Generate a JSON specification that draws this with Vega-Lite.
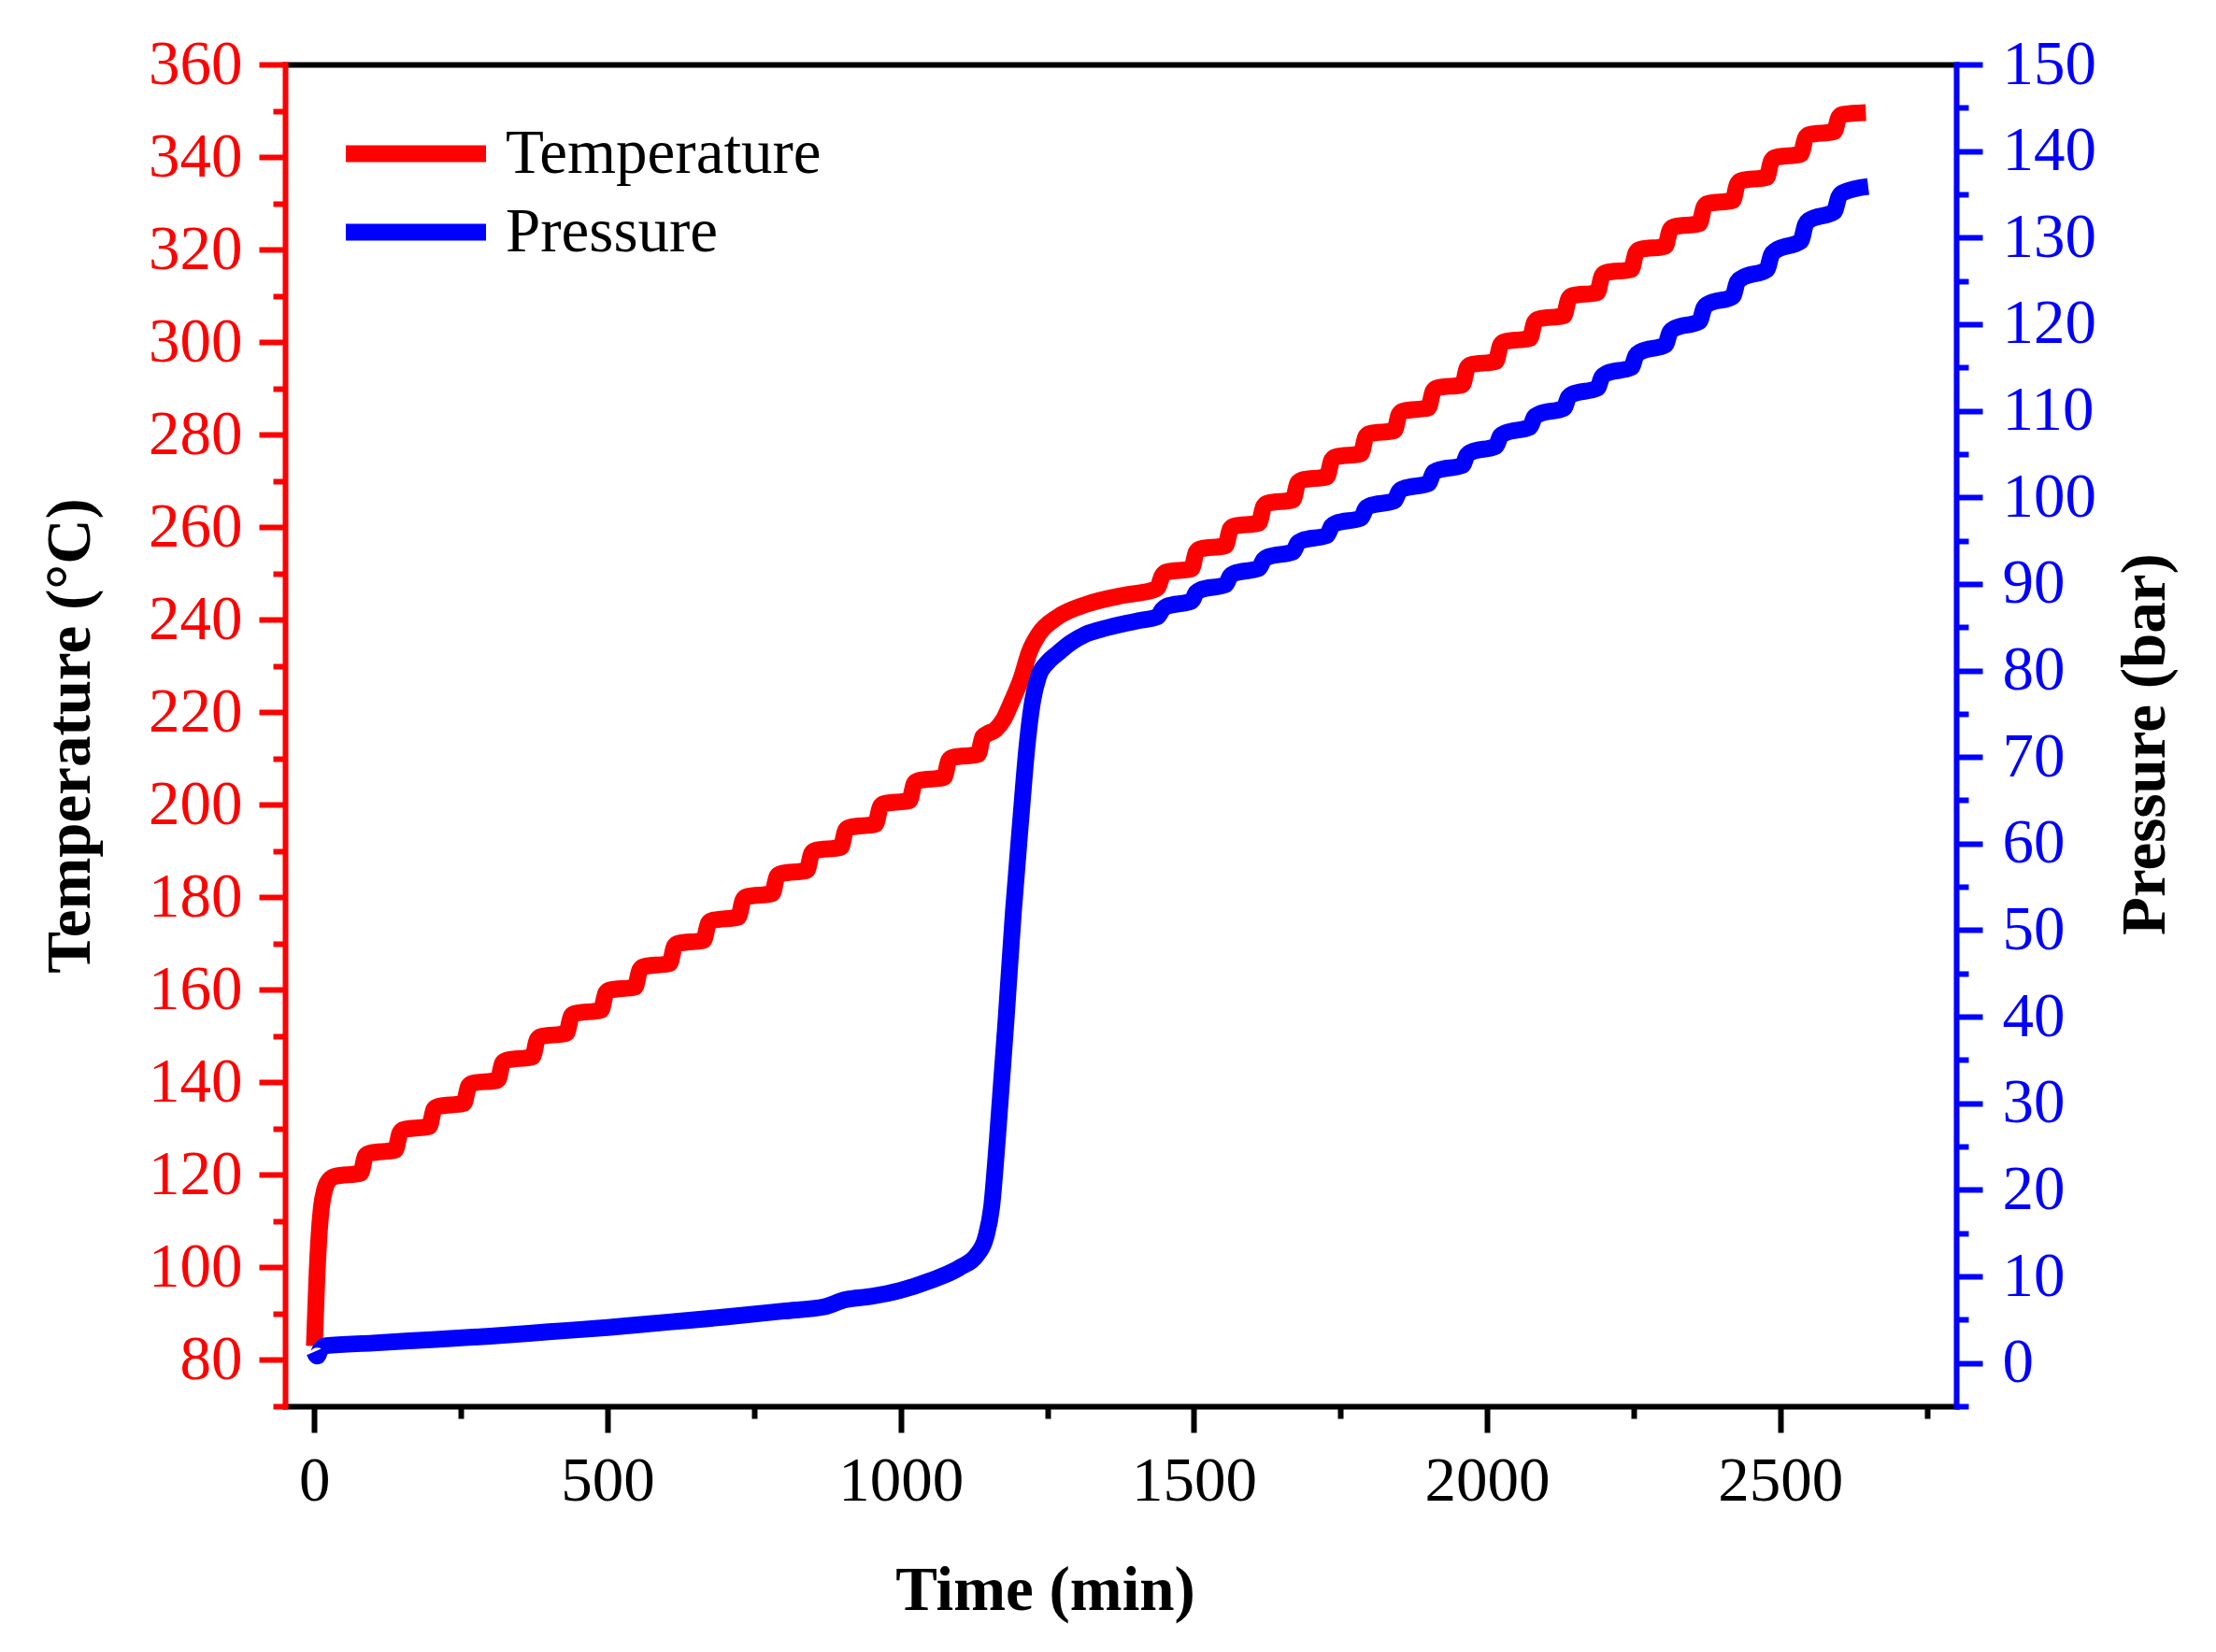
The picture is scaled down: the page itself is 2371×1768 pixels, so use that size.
{
  "$schema": "https://vega.github.io/schema/vega-lite/v6.json",
  "description": "Temperature and pressure against time, two y axes with major and minor ticks",
  "autosize": "none",
  "width": 1788,
  "height": 1436,
  "padding": {"left": 305, "top": 69, "right": 278, "bottom": 263},
  "background": "white",
  "datasets": {
    "temperature": [
      {"t": 0, "v": 83}, {"t": 4, "v": 97}, {"t": 8, "v": 107}, {"t": 12, "v": 113}, {"t": 18, "v": 117}, {"t": 26, "v": 119},
      {"t": 35, "v": 119.7}, {"t": 79, "v": 120.4}, {"t": 87, "v": 124.1},
      {"t": 94, "v": 124.7}, {"t": 138, "v": 125.4}, {"t": 146, "v": 129.1},
      {"t": 152, "v": 129.8}, {"t": 196, "v": 130.5}, {"t": 204, "v": 134.2},
      {"t": 211, "v": 134.8}, {"t": 255, "v": 135.5}, {"t": 263, "v": 139.2},
      {"t": 269, "v": 139.8}, {"t": 313, "v": 140.5}, {"t": 321, "v": 144.2},
      {"t": 328, "v": 144.8}, {"t": 372, "v": 145.5}, {"t": 380, "v": 149.2},
      {"t": 386, "v": 149.9}, {"t": 430, "v": 150.6}, {"t": 438, "v": 154.3},
      {"t": 445, "v": 154.9}, {"t": 489, "v": 155.6}, {"t": 497, "v": 159.3},
      {"t": 503, "v": 159.9}, {"t": 547, "v": 160.6}, {"t": 555, "v": 164.3},
      {"t": 562, "v": 165.0}, {"t": 606, "v": 165.7}, {"t": 614, "v": 169.4},
      {"t": 620, "v": 170.0}, {"t": 664, "v": 170.7}, {"t": 672, "v": 174.4},
      {"t": 679, "v": 175.0}, {"t": 723, "v": 175.7}, {"t": 731, "v": 179.4},
      {"t": 737, "v": 180.1}, {"t": 781, "v": 180.8}, {"t": 789, "v": 184.5},
      {"t": 796, "v": 185.1}, {"t": 840, "v": 185.8}, {"t": 848, "v": 189.5},
      {"t": 854, "v": 190.1}, {"t": 898, "v": 190.8}, {"t": 906, "v": 194.5},
      {"t": 913, "v": 195.1}, {"t": 957, "v": 195.8}, {"t": 965, "v": 199.5},
      {"t": 971, "v": 200.2}, {"t": 1015, "v": 200.9}, {"t": 1023, "v": 204.6},
      {"t": 1030, "v": 205.2}, {"t": 1074, "v": 205.9}, {"t": 1082, "v": 209.6},
      {"t": 1088, "v": 210.2}, {"t": 1132, "v": 210.9}, {"t": 1140, "v": 214.7},
      {"t": 1147, "v": 215.3}, {"t": 1162, "v": 216.3}, {"t": 1176, "v": 218.6}, {"t": 1190, "v": 222.5},
      {"t": 1206, "v": 227.5}, {"t": 1219, "v": 232.9}, {"t": 1235, "v": 236.8}, {"t": 1268, "v": 240.6},
      {"t": 1316, "v": 243.3}, {"t": 1381, "v": 245.3}, {"t": 1430, "v": 246.4}, {"t": 1438, "v": 246.9},
      {"t": 1446, "v": 249.5},
      {"t": 1453, "v": 250.3}, {"t": 1496, "v": 251.0}, {"t": 1504, "v": 254.6},
      {"t": 1511, "v": 255.3}, {"t": 1554, "v": 256.0}, {"t": 1562, "v": 259.6},
      {"t": 1568, "v": 260.2}, {"t": 1611, "v": 260.9}, {"t": 1619, "v": 264.5},
      {"t": 1626, "v": 265.2}, {"t": 1669, "v": 265.9}, {"t": 1677, "v": 269.5},
      {"t": 1684, "v": 270.2}, {"t": 1727, "v": 270.9}, {"t": 1735, "v": 274.5},
      {"t": 1742, "v": 275.2}, {"t": 1785, "v": 275.9}, {"t": 1793, "v": 279.5},
      {"t": 1799, "v": 280.2}, {"t": 1842, "v": 280.9}, {"t": 1850, "v": 284.4},
      {"t": 1857, "v": 285.1}, {"t": 1900, "v": 285.8}, {"t": 1908, "v": 289.4},
      {"t": 1915, "v": 290.1}, {"t": 1958, "v": 290.8}, {"t": 1966, "v": 294.4},
      {"t": 1972, "v": 295.1}, {"t": 2015, "v": 295.8}, {"t": 2023, "v": 299.4},
      {"t": 2030, "v": 300.1}, {"t": 2073, "v": 300.8}, {"t": 2081, "v": 304.3},
      {"t": 2088, "v": 305.0}, {"t": 2131, "v": 305.7}, {"t": 2139, "v": 309.3},
      {"t": 2145, "v": 310.0}, {"t": 2188, "v": 310.7}, {"t": 2196, "v": 314.3},
      {"t": 2203, "v": 315.0}, {"t": 2246, "v": 315.7}, {"t": 2254, "v": 319.3},
      {"t": 2261, "v": 320.0}, {"t": 2304, "v": 320.7}, {"t": 2312, "v": 324.2},
      {"t": 2319, "v": 324.9}, {"t": 2362, "v": 325.6}, {"t": 2370, "v": 329.2},
      {"t": 2376, "v": 329.9}, {"t": 2419, "v": 330.6}, {"t": 2427, "v": 334.2},
      {"t": 2434, "v": 334.9}, {"t": 2477, "v": 335.6}, {"t": 2485, "v": 339.2},
      {"t": 2492, "v": 339.9}, {"t": 2535, "v": 340.6}, {"t": 2543, "v": 344.1},
      {"t": 2549, "v": 344.8}, {"t": 2592, "v": 345.5}, {"t": 2600, "v": 348.6},
      {"t": 2607, "v": 349.2}, {"t": 2646, "v": 349.6}
    ],
    "pressure": [
      {"t": 0, "v": 1.3}, {"t": 5, "v": 0.8}, {"t": 10, "v": 1.5}, {"t": 20, "v": 2.0}, {"t": 100, "v": 2.3},
      {"t": 200, "v": 2.7}, {"t": 300, "v": 3.1}, {"t": 400, "v": 3.6}, {"t": 500, "v": 4.1}, {"t": 600, "v": 4.7},
      {"t": 700, "v": 5.3}, {"t": 800, "v": 6.0}, {"t": 870, "v": 6.5}, {"t": 905, "v": 7.3}, {"t": 950, "v": 7.7},
      {"t": 1000, "v": 8.4}, {"t": 1050, "v": 9.5}, {"t": 1100, "v": 11.0}, {"t": 1130, "v": 12.5}, {"t": 1145, "v": 14.5},
      {"t": 1155, "v": 18}, {"t": 1165, "v": 26}, {"t": 1180, "v": 40}, {"t": 1192, "v": 52}, {"t": 1205, "v": 63},
      {"t": 1215, "v": 71}, {"t": 1225, "v": 76.5}, {"t": 1235, "v": 79.3}, {"t": 1250, "v": 80.9}, {"t": 1268, "v": 82.0},
      {"t": 1290, "v": 83.2}, {"t": 1316, "v": 84.2}, {"t": 1350, "v": 84.9}, {"t": 1381, "v": 85.4}, {"t": 1410, "v": 85.8},
      {"t": 1438, "v": 86.2}, {"t": 1446, "v": 87.0},
      {"t": 1453, "v": 87.4}, {"t": 1496, "v": 88.0}, {"t": 1504, "v": 89.0},
      {"t": 1511, "v": 89.3}, {"t": 1554, "v": 89.9}, {"t": 1562, "v": 90.9},
      {"t": 1568, "v": 91.2}, {"t": 1611, "v": 91.8}, {"t": 1619, "v": 92.8},
      {"t": 1626, "v": 93.1}, {"t": 1669, "v": 93.7}, {"t": 1677, "v": 94.7},
      {"t": 1684, "v": 95.0}, {"t": 1727, "v": 95.6}, {"t": 1735, "v": 96.7},
      {"t": 1742, "v": 97.0}, {"t": 1785, "v": 97.6}, {"t": 1793, "v": 98.7},
      {"t": 1799, "v": 99.0}, {"t": 1842, "v": 99.6}, {"t": 1850, "v": 100.7},
      {"t": 1857, "v": 101.0}, {"t": 1900, "v": 101.6}, {"t": 1908, "v": 102.8},
      {"t": 1915, "v": 103.1}, {"t": 1958, "v": 103.7}, {"t": 1966, "v": 104.9},
      {"t": 1972, "v": 105.2}, {"t": 2015, "v": 105.9}, {"t": 2023, "v": 107.1},
      {"t": 2030, "v": 107.4}, {"t": 2073, "v": 108.1}, {"t": 2081, "v": 109.3},
      {"t": 2088, "v": 109.6}, {"t": 2131, "v": 110.3}, {"t": 2139, "v": 111.6},
      {"t": 2145, "v": 111.9}, {"t": 2188, "v": 112.6}, {"t": 2196, "v": 113.9},
      {"t": 2203, "v": 114.3}, {"t": 2246, "v": 115.0}, {"t": 2254, "v": 116.4},
      {"t": 2261, "v": 116.8}, {"t": 2304, "v": 117.6}, {"t": 2312, "v": 119.1},
      {"t": 2319, "v": 119.5}, {"t": 2362, "v": 120.3}, {"t": 2370, "v": 121.9},
      {"t": 2376, "v": 122.3}, {"t": 2419, "v": 123.2}, {"t": 2427, "v": 124.9},
      {"t": 2434, "v": 125.3}, {"t": 2477, "v": 126.3}, {"t": 2485, "v": 128.0},
      {"t": 2492, "v": 128.5}, {"t": 2535, "v": 129.6}, {"t": 2543, "v": 131.5},
      {"t": 2549, "v": 132.0}, {"t": 2592, "v": 133.0}, {"t": 2600, "v": 134.7},
      {"t": 2607, "v": 135.2}, {"t": 2650, "v": 135.9}
    ]
  },
  "layer": [
    {
      "data": {"name": "temperature"},
      "mark": {"type": "line", "interpolate": "monotone", "strokeWidth": 18, "strokeCap": "butt", "strokeJoin": "round"},
      "encoding": {
        "x": {
          "field": "t", "type": "quantitative",
          "scale": {"domain": [-50, 2800], "nice": false, "zero": false},
          "axis": {
            "orient": "bottom",
            "title": "Time (min)",
            "values": [0, 500, 1000, 1500, 2000, 2500],
            "format": "d",
            "tickSize": 28,
            "domainColor": "black", "tickColor": "black", "labelColor": "black",
            "labelPadding": 19,
            "titleX": 813, "titleY": 217, "titleAlign": "center", "titleBaseline": "alphabetic"
          }
        },
        "y": {
          "field": "v", "type": "quantitative",
          "scale": {"domain": [70, 360], "nice": false, "zero": false},
          "axis": {
            "orient": "left",
            "title": "Temperature (°C)",
            "values": [80, 100, 120, 140, 160, 180, 200, 220, 240, 260, 280, 300, 320, 340, 360],
            "tickSize": 28,
            "domainColor": "#ff0000", "tickColor": "#ff0000", "labelColor": "#ff0000",
            "labelPadding": 18,
            "titleAngle": 270, "titleX": -210, "titleY": 718, "titleAlign": "center", "titleBaseline": "alphabetic"
          }
        },
        "color": {
          "datum": "Temperature", "type": "nominal",
          "scale": {"domain": ["Temperature", "Pressure"], "range": ["#ff0000", "#0000ff"]},
          "legend": {"orient": "none", "legendX": 56, "legendY": 62, "title": null}
        }
      }
    },
    {
      "data": {"name": "temperature"},
      "mark": {"type": "line", "opacity": 0},
      "encoding": {
        "x": {
          "field": "t", "type": "quantitative",
          "scale": {"domain": [-50, 2800], "nice": false, "zero": false},
          "axis": {
            "orient": "bottom", "title": null, "labels": false, "domain": false,
            "values": [250, 750, 1250, 1750, 2250, 2750],
            "tickSize": 13, "tickColor": "black"
          }
        },
        "y": {
          "field": "v", "type": "quantitative",
          "scale": {"domain": [70, 360], "nice": false, "zero": false},
          "axis": {
            "orient": "left", "title": null, "labels": false, "domain": false,
            "values": [70, 90, 110, 130, 150, 170, 190, 210, 230, 250, 270, 290, 310, 330, 350],
            "tickSize": 13, "tickColor": "#ff0000"
          }
        }
      }
    },
    {
      "data": {"name": "pressure"},
      "mark": {"type": "line", "opacity": 0},
      "encoding": {
        "x": {
          "field": "t", "type": "quantitative",
          "scale": {"domain": [-50, 2800], "nice": false, "zero": false},
          "axis": null
        },
        "y": {
          "field": "v", "type": "quantitative",
          "scale": {"domain": [-5, 150], "nice": false, "zero": false},
          "axis": {
            "orient": "right", "title": null, "labels": false, "domain": false,
            "values": [-5, 5, 15, 25, 35, 45, 55, 65, 75, 85, 95, 105, 115, 125, 135, 145],
            "tickSize": 13, "tickColor": "#0000ff"
          }
        }
      }
    },
    {
      "data": {"name": "pressure"},
      "mark": {"type": "line", "interpolate": "monotone", "strokeWidth": 18, "strokeCap": "butt", "strokeJoin": "round"},
      "encoding": {
        "x": {
          "field": "t", "type": "quantitative",
          "scale": {"domain": [-50, 2800], "nice": false, "zero": false},
          "axis": {"orient": "top", "title": null, "ticks": false, "labels": false, "domainColor": "black"}
        },
        "y": {
          "field": "v", "type": "quantitative",
          "scale": {"domain": [-5, 150], "nice": false, "zero": false},
          "axis": {
            "orient": "right",
            "title": "Pressure (bar)",
            "values": [0, 10, 20, 30, 40, 50, 60, 70, 80, 90, 100, 110, 120, 130, 140, 150],
            "tickSize": 28,
            "domainColor": "#0000ff", "tickColor": "#0000ff", "labelColor": "#0000ff",
            "labelPadding": 21,
            "titleAngle": 270, "titleX": 222, "titleY": 727, "titleAlign": "center", "titleBaseline": "alphabetic"
          }
        },
        "color": {
          "datum": "Pressure", "type": "nominal",
          "scale": {"domain": ["Temperature", "Pressure"], "range": ["#ff0000", "#0000ff"]}
        }
      }
    }
  ],
  "resolve": {"scale": {"y": "independent"}, "axis": {"x": "independent", "y": "independent"}},
  "config": {
    "view": {"stroke": null},
    "axis": {
      "grid": false,
      "labelFont": "Liberation Serif", "labelFontSize": 67,
      "titleFont": "Liberation Serif", "titleFontSize": 67, "titleFontWeight": "bold", "titleColor": "black",
      "tickWidth": 6, "domainWidth": 6, "domainCap": "square",
      "labelFlush": false, "labelOverlap": false
    },
    "legend": {
      "padding": 0,
      "symbolType": "stroke", "symbolSize": 22500, "symbolStrokeWidth": 18,
      "clipHeight": 67, "rowPadding": 16,
      "labelFont": "Liberation Serif", "labelFontSize": 67, "labelColor": "black",
      "labelOffset": 12, "labelLimit": 1000
    }
  }
}
